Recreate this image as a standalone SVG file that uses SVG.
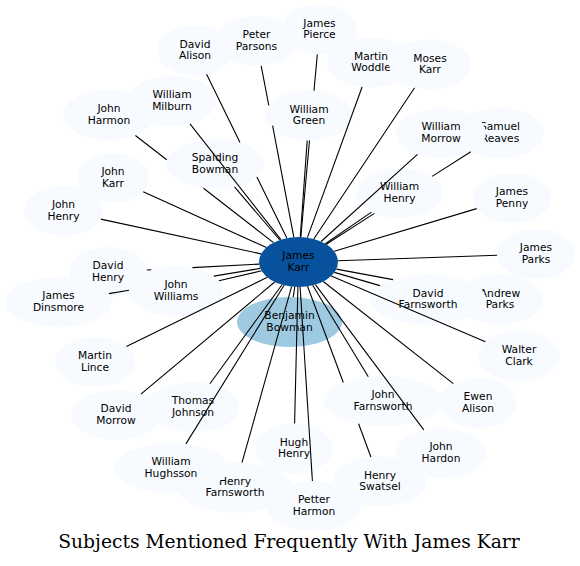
<svg xmlns="http://www.w3.org/2000/svg" width="580" height="566" viewBox="0 0 580 566">
<style>
.n ellipse{fill:#f7fbff;stroke:none}
.n text{font-family:"DejaVu Sans",sans-serif;font-size:10.7px;fill:#000;text-anchor:middle}
#edges path{stroke:#000;stroke-width:1.1;fill:none}
.title{font-family:"DejaVu Serif",serif;font-size:18.7px;fill:#000;text-anchor:middle}
</style>
<rect width="580" height="566" fill="#fff"/>
<g id="nodes">
<g id="benjamin_bowman" class="n"><ellipse cx="289.5" cy="322" rx="52.5" ry="25" style="fill:#9ecae1"/><text x="289.5" y="319">Benjamin</text><text x="289.5" y="330.5">Bowman</text></g>
<g id="james_karr" class="n"><ellipse cx="298.5" cy="262" rx="39.5" ry="25" style="fill:#08519c"/><text x="298.5" y="259">James</text><text x="298.5" y="270.5">Karr</text></g>
<g id="david_alison" class="n"><ellipse cx="195" cy="50.5" rx="38" ry="25"/><text x="195" y="47.5">David</text><text x="195" y="59">Alison</text></g>
<g id="peter_parsons" class="n"><ellipse cx="256.5" cy="41" rx="41.5" ry="25"/><text x="256.5" y="38">Peter</text><text x="256.5" y="49.5">Parsons</text></g>
<g id="james_pierce" class="n"><ellipse cx="319.5" cy="29.5" rx="37.5" ry="25"/><text x="319.5" y="26.5">James</text><text x="319.5" y="38">Pierce</text></g>
<g id="martin_woddle" class="n"><ellipse cx="371" cy="62.5" rx="44" ry="25"/><text x="371" y="59.5">Martin</text><text x="371" y="71">Woddle</text></g>
<g id="moses_karr" class="n"><ellipse cx="430" cy="64.5" rx="41" ry="25"/><text x="430" y="61.5">Moses</text><text x="430" y="73">Karr</text></g>
<g id="john_harmon" class="n"><ellipse cx="109" cy="115" rx="46" ry="25"/><text x="109" y="112">John</text><text x="109" y="123.5">Harmon</text></g>
<g id="william_milburn" class="n"><ellipse cx="172" cy="101" rx="44.5" ry="25"/><text x="172" y="98">William</text><text x="172" y="109.5">Milburn</text></g>
<g id="william_green" class="n"><ellipse cx="309" cy="115.5" rx="44" ry="25"/><text x="309" y="112.5">William</text><text x="309" y="124">Green</text></g>
<g id="samuel_reaves" class="n"><ellipse cx="500" cy="133" rx="44" ry="25"/><text x="500" y="130">Samuel</text><text x="500" y="141.5">Reaves</text></g>
<g id="william_morrow" class="n"><ellipse cx="441" cy="133" rx="45" ry="25"/><text x="441" y="130">William</text><text x="441" y="141.5">Morrow</text></g>
<g id="spalding_bowman" class="n"><ellipse cx="215" cy="164" rx="49" ry="25"/><text x="215" y="161">Spalding</text><text x="215" y="172.5">Bowman</text></g>
<g id="john_karr" class="n"><ellipse cx="113" cy="178" rx="36" ry="25"/><text x="113" y="175">John</text><text x="113" y="186.5">Karr</text></g>
<g id="william_henry" class="n"><ellipse cx="399.5" cy="193" rx="43.5" ry="25"/><text x="399.5" y="190">William</text><text x="399.5" y="201.5">Henry</text></g>
<g id="james_penny" class="n"><ellipse cx="512" cy="198" rx="39" ry="25"/><text x="512" y="195">James</text><text x="512" y="206.5">Penny</text></g>
<g id="john_henry" class="n"><ellipse cx="63.5" cy="211" rx="39.5" ry="25"/><text x="63.5" y="208">John</text><text x="63.5" y="219.5">Henry</text></g>
<g id="james_parks" class="n"><ellipse cx="536" cy="254" rx="39" ry="25"/><text x="536" y="251">James</text><text x="536" y="262.5">Parks</text></g>
<g id="david_henry" class="n"><ellipse cx="108" cy="272" rx="39" ry="25"/><text x="108" y="269">David</text><text x="108" y="280.5">Henry</text></g>
<g id="james_dinsmore" class="n"><ellipse cx="58.5" cy="302" rx="53.5" ry="25"/><text x="58.5" y="299">James</text><text x="58.5" y="310.5">Dinsmore</text></g>
<g id="john_williams" class="n"><ellipse cx="176" cy="291" rx="47" ry="25"/><text x="176" y="288">John</text><text x="176" y="299.5">Williams</text></g>
<g id="andrew_parks" class="n"><ellipse cx="500" cy="299.5" rx="43" ry="25"/><text x="500" y="296.5">Andrew</text><text x="500" y="308">Parks</text></g>
<g id="david_farnsworth" class="n"><ellipse cx="428" cy="299.5" rx="58" ry="25"/><text x="428" y="296.5">David</text><text x="428" y="308">Farnsworth</text></g>
<g id="martin_lince" class="n"><ellipse cx="95" cy="362" rx="40" ry="25"/><text x="95" y="359">Martin</text><text x="95" y="370.5">Lince</text></g>
<g id="walter_clark" class="n"><ellipse cx="519" cy="356" rx="41" ry="25"/><text x="519" y="353">Walter</text><text x="519" y="364.5">Clark</text></g>
<g id="thomas_johnson" class="n"><ellipse cx="193" cy="407" rx="46.5" ry="25"/><text x="193" y="404">Thomas</text><text x="193" y="415.5">Johnson</text></g>
<g id="john_farnsworth" class="n"><ellipse cx="383" cy="401" rx="59" ry="25"/><text x="383" y="398">John</text><text x="383" y="409.5">Farnsworth</text></g>
<g id="ewen_alison" class="n"><ellipse cx="478" cy="403" rx="39" ry="25"/><text x="478" y="400">Ewen</text><text x="478" y="411.5">Alison</text></g>
<g id="david_morrow" class="n"><ellipse cx="116" cy="415" rx="45" ry="25"/><text x="116" y="412">David</text><text x="116" y="423.5">Morrow</text></g>
<g id="hugh_henry" class="n"><ellipse cx="294" cy="448.5" rx="39" ry="25"/><text x="294" y="445.5">Hugh</text><text x="294" y="457">Henry</text></g>
<g id="john_hardon" class="n"><ellipse cx="441" cy="453" rx="45" ry="25"/><text x="441" y="450">John</text><text x="441" y="461.5">Hardon</text></g>
<g id="henry_farnsworth" class="n"><ellipse cx="235" cy="487.5" rx="58" ry="25"/><text x="235" y="484.5">Henry</text><text x="235" y="496">Farnsworth</text></g>
<g id="william_hughsson" class="n"><ellipse cx="171" cy="468" rx="57" ry="25"/><text x="171" y="465">William</text><text x="171" y="476.5">Hughsson</text></g>
<g id="henry_swatsel" class="n"><ellipse cx="380" cy="481.5" rx="47" ry="25"/><text x="380" y="478.5">Henry</text><text x="380" y="490">Swatsel</text></g>
<g id="petter_harmon" class="n"><ellipse cx="314" cy="506" rx="47" ry="25"/><text x="314" y="503">Petter</text><text x="314" y="514.5">Harmon</text></g>
</g>
<g id="edges">
<path d="M294.8 286.9L293.2 297.1"/>
<path d="M286.8 238.1L256.9 177.0M240.0 142.5L206.6 74.3"/>
<path d="M293.8 237.2L272.6 125.7M268.8 105.5L261.2 65.8"/>
<path d="M300.8 237.0L309.5 140.5M314.0 90.7L317.3 54.5"/>
<path d="M307.4 237.6L362.1 87.0"/>
<path d="M313.8 239.0L414.6 87.7"/>
<path d="M280.9 239.6L190.0 123.9"/>
<path d="M273.5 242.6L203.5 188.3M166.7 159.7L135.4 135.5"/>
<path d="M300.3 237.0L307.2 140.5"/>
<path d="M321.1 241.5L417.5 154.3"/>
<path d="M326.3 244.2L374.4 213.4M432.1 176.4L470.8 151.7"/>
<path d="M279.8 240.0L234.5 186.9"/>
<path d="M266.4 247.5L143.2 191.7"/>
<path d="M325.3 243.7L371.5 212.1"/>
<path d="M334.2 251.3L476.7 208.6"/>
<path d="M261.1 253.9L100.9 219.1"/>
<path d="M337.9 260.7L497.1 255.3"/>
<path d="M259.1 264.1L192.4 267.6M151.3 269.7L146.9 270.0"/>
<path d="M261.5 270.8L218.9 280.8"/>
<path d="M260.3 268.4L213.8 276.1M129.0 290.2L108.9 293.6"/>
<path d="M334.4 272.4L379.9 285.6"/>
<path d="M336.4 269.1L393.0 279.6"/>
<path d="M267.3 277.3L126.4 346.5"/>
<path d="M331.3 276.0L485.4 341.7"/>
<path d="M282.0 284.7L209.9 383.7"/>
<path d="M312.7 285.3L368.3 376.8"/>
<path d="M323.3 281.5L453.3 383.6"/>
<path d="M274.7 282.0L140.9 394.2"/>
<path d="M297.9 287.0L294.6 423.5"/>
<path d="M315.4 284.6L423.8 429.9"/>
<path d="M284.1 285.3L185.9 443.9"/>
<path d="M291.6 286.6L242.0 462.7"/>
<path d="M307.5 286.3L343.3 382.5M358.6 423.8L370.9 457.0"/>
<path d="M300.1 287.0L312.4 481.0"/>
</g>
<text class="title" x="289" y="548">Subjects Mentioned Frequently With James Karr</text>
</svg>
